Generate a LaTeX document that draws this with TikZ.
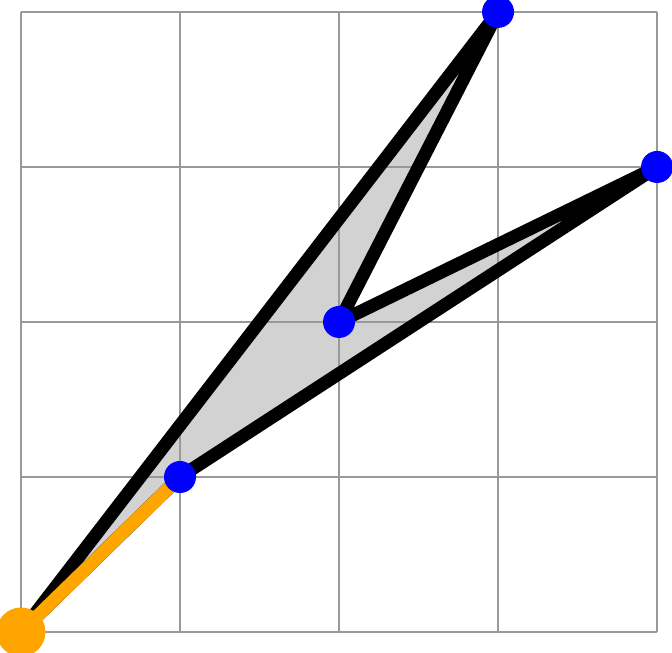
\documentclass[tikz,border=0pt]{standalone}
\definecolor{amber}{RGB}{255,165,0}
\begin{document}
\begin{tikzpicture}[x=3.18cm, y=3.10cm]
        \tikzstyle{vertex}=[circle, fill=blue, inner sep=0pt, minimum size=0.64cm];
        \tikzstyle{origin}=[circle, fill=amber, inner sep=0pt, minimum size=0.98cm];
        \tikzstyle{edge}=[line width=7.4pt, line join=round];

        \useasboundingbox (-0.132,-0.135) rectangle (4.094,4.077);

        \coordinate (o) at (0,0);
        \coordinate (a) at (1,1);
        \coordinate (b) at (2,2);
        \coordinate (c) at (3,4);
        \coordinate (d) at (4,3);

        \fill[gray!35] (o) -- (c) -- (b) -- (d) -- (a) -- cycle;
        \foreach \i in {0,...,4} {
            \draw[gray!80, line width=0.8pt] (\i,0) -- (\i,4);
            \draw[gray!80, line width=0.8pt] (0,\i) -- (4,\i);
        }
        \draw[edge] (a) -- (o) -- (c) -- (b) -- (d) -- (a);
        \draw[edge, amber] (o) -- (a);

        \node[origin] (no) at (o) {};
        \node[vertex] (na) at (a) {};
        \node[vertex] (nb) at (b) {};
        \node[vertex] (nc) at (c) {};
        \node[vertex] (nd) at (d) {};
    \end{tikzpicture}
\end{document}
